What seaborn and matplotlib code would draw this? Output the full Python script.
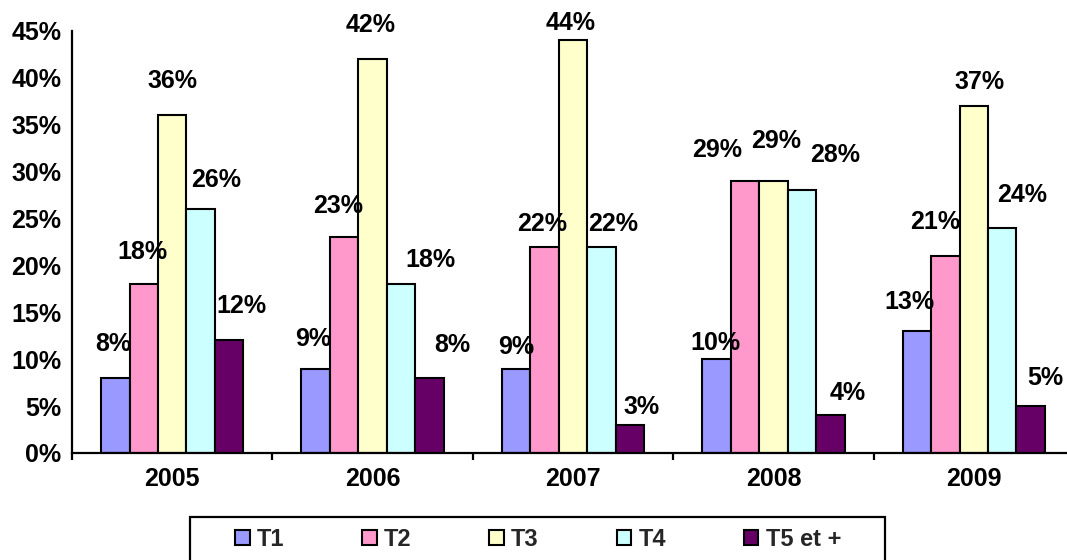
import matplotlib
matplotlib.use("Agg")
import matplotlib.pyplot as plt
from matplotlib.patches import Rectangle
from matplotlib.ticker import FixedLocator, FuncFormatter
import seaborn as sns
import pandas as pd

# ---- data ----
years = ["2005", "2006", "2007", "2008", "2009"]
series = ["T1", "T2", "T3", "T4", "T5 et +"]
t1 = [8, 9, 9, 10, 13]
t2 = [18, 23, 22, 29, 21]
t3 = [36, 42, 44, 29, 37]
t4 = [26, 18, 22, 28, 24]
t5 = [12, 8, 3, 4, 5]
values = [t1, t2, t3, t4, t5]
colors = ["#9999FF", "#FF99CC", "#FFFFCC", "#CCFFFF", "#660066"]

# label offsets (pixels) relative to the top-centre of each bar, per series x year
label_dx = [[-2, -2, 0, -1, -7],
            [-1, -6, -2, -28, -10],
            [0, -2, -2, 3, 6],
            [15, 29, 12, 33, 20],
            [12, 23, 12, 17, 15]]
label_dy = [[34, 30, 22, 16, 29],
            [32, 31, 23, 31, 34],
            [34, 34, 17, 40, 24],
            [29, 24, 23, 35, 33],
            [34, 33, 18, 22, 28]]

rows = []
for s, vals in zip(series, values):
    for y, v in zip(years, vals):
        rows.append({"year": y, "serie": s, "value": v})
df = pd.DataFrame(rows)

sns.set_theme(style="white")
plt.rcParams["font.family"] = ["Liberation Sans", "DejaVu Sans"]
plt.rcParams["font.weight"] = "bold"

W, H = 1067, 560
fig = plt.figure(figsize=(W / 100, H / 100), dpi=100)
ax = fig.add_axes([72 / W, 1 - 453 / H, 1002 / W, 422 / H])

sns.barplot(data=df, x="year", y="value", hue="serie", order=years,
            hue_order=series, palette=colors, width=0.71, gap=0,
            edgecolor="black", linewidth=1.5, saturation=1, ax=ax,
            legend=True, errorbar=None)

handles, labels = ax.get_legend_handles_labels()
if ax.get_legend() is not None:
    ax.get_legend().remove()

ax.set_xlim(-0.5, 4.5)
ax.set_ylim(0, 45)
ax.set_xlabel("")
ax.set_ylabel("")
ax.set_yticks(range(0, 50, 5))
ax.yaxis.set_major_formatter(FuncFormatter(lambda v, p: f"{v:.0f}%"))
ax.xaxis.set_minor_locator(FixedLocator([-0.5, 0.5, 1.5, 2.5, 3.5, 4.5]))

for sp in ["top", "right"]:
    ax.spines[sp].set_visible(False)
for sp in ["left", "bottom"]:
    ax.spines[sp].set_linewidth(1.6)
    ax.spines[sp].set_color("black")
    ax.spines[sp].set_clip_on(False)

ax.tick_params(axis="y", which="major", direction="out", length=4.5, width=1.6,
               color="black", pad=3, labelsize=18, labelcolor="black")
ax.tick_params(axis="x", which="major", length=0, pad=10, labelsize=18,
               labelcolor="black")
ax.tick_params(axis="x", which="minor", direction="out", length=5, width=1.6,
               color="black", bottom=True)
for t in ax.get_xticklabels() + ax.get_yticklabels():
    t.set_fontweight("bold")

# data labels
for i, cont in enumerate(ax.containers):
    for j, bar in enumerate(cont):
        x = bar.get_x() + bar.get_width() / 2
        h = bar.get_height()
        ax.annotate(f"{h:.0f}%", xy=(x, h), xytext=(label_dx[i][j], label_dy[i][j]),
                    textcoords="offset pixels", ha="center", va="center",
                    fontsize=18, fontweight="bold", color="black",
                    annotation_clip=False)

# legend
for h in handles:
    h.set_edgecolor("black")
    h.set_linewidth(1.5)
leg = fig.legend(handles, labels, loc="center left",
                 bbox_to_anchor=(235 / W, 1 - 539 / H), ncol=5, frameon=False,
                 borderpad=0, borderaxespad=0, handlelength=0.62,
                 handleheight=0.62, handletextpad=0.3, columnspacing=3.3,
                 prop={"family": ["Liberation Sans Narrow", "Liberation Sans"],
                       "weight": "bold", "size": 17})
fig.add_artist(Rectangle((190 / W, -0.02), 695 / W, (560 - 517) / H + 0.02,
                         transform=fig.transFigure, fill=False,
                         edgecolor="black", linewidth=1.6, clip_on=False))

fig.savefig("out.png", dpi=100, facecolor="white")
